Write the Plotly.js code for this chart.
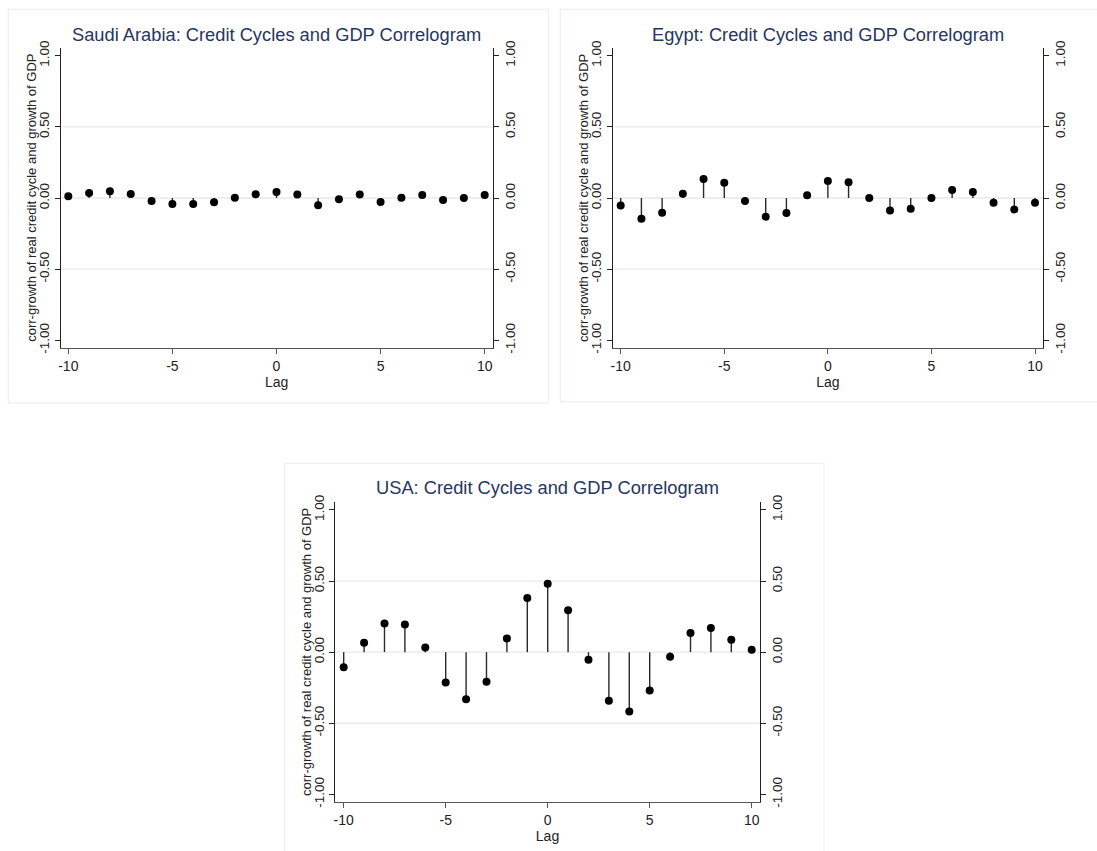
<!DOCTYPE html>
<html><head><meta charset="utf-8">
<script src="https://cdn.plot.ly/plotly-3.0.1.min.js"></script>
<style>html,body{margin:0;padding:0;background:#fff;} #chart{width:1097px;height:851px;}</style>
</head><body><div id="chart"></div>
<script>
// ---- data ----
const lags = [-10,-9,-8,-7,-6,-5,-4,-3,-2,-1,0,1,2,3,4,5,6,7,8,9,10];
const saudiCorr = [0.012,0.035,0.047,0.028,-0.021,-0.042,-0.042,-0.030,0.001,0.026,0.042,0.024,-0.051,-0.009,0.024,-0.028,0.002,0.021,-0.014,0.000,0.021];
const egyptCorr = [-0.052,-0.145,-0.103,0.030,0.134,0.108,-0.021,-0.131,-0.105,0.019,0.119,0.110,0.000,-0.087,-0.075,0.000,0.056,0.042,-0.033,-0.080,-0.033];
const usaCorr = [-0.106,0.066,0.202,0.195,0.033,-0.213,-0.331,-0.209,0.096,0.380,0.481,0.295,-0.054,-0.342,-0.417,-0.270,-0.033,0.134,0.169,0.087,0.016];
const panelTitles = ["Saudi Arabia: Credit Cycles and GDP Correlogram","Egypt: Credit Cycles and GDP Correlogram","USA: Credit Cycles and GDP Correlogram"];
const yAxisTitle = "corr-growth of real credit cycle and growth of GDP";
const xAxisTitle = "Lag";
const yTickVals = [-1,-0.5,0,0.5,1];
const yTickText = ["-1.00","-0.50","0.00","0.50","1.00"];
const xTickVals = [-10,-5,0,5,10];
const xTickText = ["-10","-5","0","5","10"];
const gridVals = [-0.5,0,0.5];

// ---- layout geometry (pixels) ----
const W = 1097, H = 851;
const panels = [
  {data: saudiCorr, title: panelTitles[0], left:60.5, right:492.7, top:48.3, bottom:348.3, xr:[-10.375,10.385], yr:[-1.056,1.052], box:[8.3,9.3,548.3,403], titleY:34},
  {data: egyptCorr, title: panelTitles[1], left:612.7, right:1043, top:48.3, bottom:348.3, xr:[-10.386,10.386], yr:[-1.056,1.052], box:[560.3,9.3,1100,402], titleY:34},
  {data: usaCorr, title: panelTitles[2], left:335, right:760, top:501.7, bottom:802.3, xr:[-10.426,10.407], yr:[-1.056,1.058], box:[284.3,463.3,824,860], titleY:487.5}
];
const fx = p => p / W;
const fy = p => 1 - p / H;

const FONT = "Arial, 'Liberation Sans', sans-serif";
const traces = [];
const layout = {
  width: W, height: H, margin: {l:0, r:0, t:0, b:0},
  paper_bgcolor: '#ffffff', plot_bgcolor: '#ffffff',
  showlegend: false, font: {family: FONT, color: '#222'},
  shapes: [], annotations: []
};

panels.forEach((p, i) => {
  const k = i + 1;
  const xa = k === 1 ? 'x' : 'x' + k;
  const ya = k === 1 ? 'y' : 'y' + k;
  const yr2 = 'y' + (k + 3);
  // stems built from data
  const sx = [], sy = [];
  lags.forEach((l, j) => { sx.push(l, l, null); sy.push(0, p.data[j], null); });
  traces.push({x: sx, y: sy, xaxis: xa, yaxis: ya, mode: 'lines', type: 'scatter',
    line: {color: '#2a2a2a', width: 1.4}, hoverinfo: 'skip'});
  traces.push({x: lags, y: p.data, xaxis: xa, yaxis: ya, mode: 'markers', type: 'scatter',
    marker: {color: '#000', size: 8}, hoverinfo: 'x+y'});
  // invisible trace for right axis
  traces.push({x: lags, y: p.data, xaxis: xa, yaxis: yr2, mode: 'markers', type: 'scatter',
    marker: {color: 'rgba(0,0,0,0)', size: 1}, hoverinfo: 'skip'});

  const xdom = [fx(p.left), fx(p.right)];
  const ydom = [fy(p.bottom), fy(p.top)];
  layout['xaxis' + (k === 1 ? '' : k)] = {
    domain: xdom, anchor: ya, range: p.xr, tickvals: xTickVals, ticktext: xTickText,
    showline: true, linecolor: '#555', linewidth: 1, ticks: 'outside', ticklen: 5, tickcolor: '#555',
    showgrid: false, zeroline: false, tickfont: {size: 14, color: '#222', family: FONT},
    title: {text: xAxisTitle, font: {size: 14, color: '#222', family: FONT}, standoff: 0}
  };
  layout['yaxis' + (k === 1 ? '' : k)] = {
    domain: ydom, anchor: xa, range: p.yr, tickvals: yTickVals, ticktext: yTickText, tickangle: -90,
    showline: true, linecolor: '#222', linewidth: 1, ticks: 'outside', ticklen: 5, tickcolor: '#222',
    showgrid: false, zeroline: false, tickfont: {size: 13.5, color: '#222', family: FONT}
  };
  layout['yaxis' + (k + 3)] = {
    domain: ydom, anchor: xa, overlaying: ya, side: 'right', range: p.yr,
    tickvals: yTickVals, ticktext: yTickText, tickangle: -90,
    showline: true, linecolor: '#222', linewidth: 1, ticks: 'outside', ticklen: 5, tickcolor: '#222',
    showgrid: false, zeroline: false, tickfont: {size: 13.5, color: '#222', family: FONT}
  };
  gridVals.forEach(g => layout.shapes.push({type: 'line', xref: xa + ' domain', yref: ya,
    x0: 0, x1: 1, y0: g, y1: g, line: {color: '#e3ebee', width: 1.3}, layer: 'below'}));
  layout.shapes.push({type: 'rect', xref: 'paper', yref: 'paper',
    x0: fx(p.box[0]), x1: fx(p.box[2]), y0: fy(p.box[3]), y1: fy(p.box[1]),
    line: {color: '#e6edf0', width: 1}, fillcolor: 'rgba(0,0,0,0)', layer: 'below'});
  layout.annotations.push({text: p.title, xref: 'paper', yref: 'paper',
    x: fx((p.left + p.right) / 2), y: fy(p.titleY), xanchor: 'center', yanchor: 'middle',
    showarrow: false, font: {size: 18.3, color: '#26365f', family: FONT}});
  // y-axis title
  layout.annotations.push({text: yAxisTitle, xref: 'paper', yref: 'paper', textangle: -90,
    x: fx(p.left - 29), y: fy((p.top + p.bottom) / 2), xanchor: 'center', yanchor: 'middle',
    showarrow: false, font: {size: 13, color: '#222', family: FONT}});
});

Plotly.newPlot('chart', traces, layout, {displayModeBar: false});
</script></body></html>
